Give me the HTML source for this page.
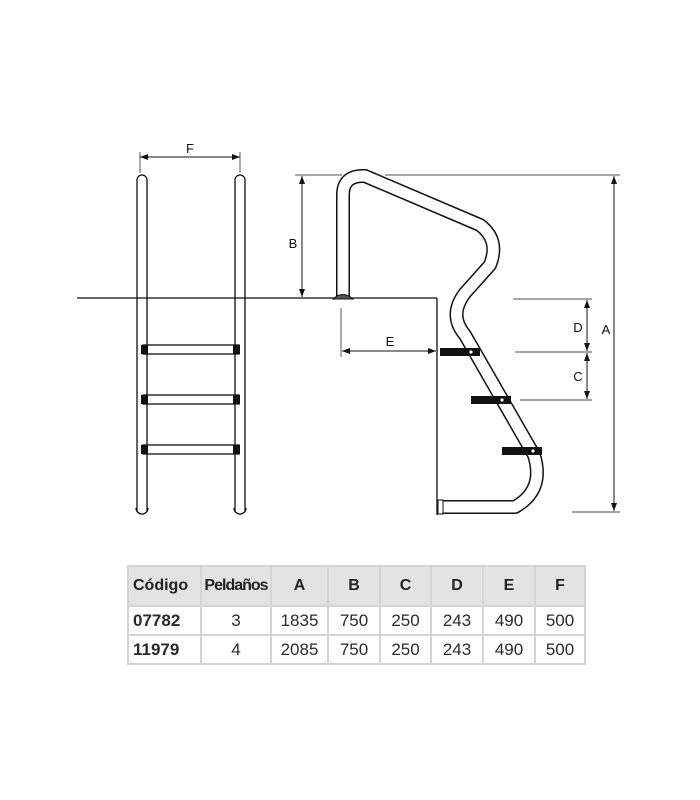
<!DOCTYPE html>
<html><head><style>
body{margin:0;background:#fff;width:700px;height:800px;position:relative;overflow:hidden;font-family:"Liberation Sans",sans-serif}
table{position:absolute;left:127px;top:565px;border-collapse:collapse;color:#2a2a2a}
td{border:2px solid #d4d4d4;text-align:center;font-size:17px;height:27px;padding:0}
tr.h td{background:#e3e3e3;font-weight:bold;font-size:16px;height:38px;color:#222}
td.c{font-weight:bold;text-align:left;padding-left:4px}
</style></head><body>
<svg width="700" height="560" style="position:absolute;left:0;top:0" font-family="Liberation Sans,sans-serif" font-size="13" fill="none" stroke="#111">
<defs><marker id="a" markerWidth="8" markerHeight="6" refX="8" refY="3" orient="auto-start-reverse"><path d="M0,0L8,3L0,6z" fill="#111" stroke="none"/></marker></defs>
<line x1="77" y1="298" x2="437" y2="298" stroke-width="1.3"/>
<line x1="437" y1="298" x2="437" y2="515" stroke-width="1.3"/>
<path d="M137,512V180a5,5 0 0 1 10,0V512" stroke-width="1.3"/>
<path d="M235,512V180a5,5 0 0 1 10,0V512" stroke-width="1.3"/>
<path d="M136,508a6,6 0 0 0 12,0M234,508a6,6 0 0 0 12,0" stroke-width="1.3"/>
<g stroke-width="1.3" fill="#fff"><rect x="143" y="345" width="96" height="9"/><rect x="143" y="395" width="96" height="9"/><rect x="143" y="445" width="96" height="9"/></g>
<g fill="#111" stroke="none"><rect x="141" y="345" width="7" height="9"/><rect x="233" y="345" width="7" height="9"/><rect x="141" y="395" width="7" height="9"/><rect x="233" y="395" width="7" height="9"/><rect x="141" y="445" width="7" height="9"/><rect x="233" y="445" width="7" height="9"/></g>
<line x1="140" y1="157" x2="240" y2="157" stroke-width="1" marker-start="url(#a)" marker-end="url(#a)"/>
<line x1="140" y1="152" x2="140" y2="173" stroke-width=".7"/><line x1="240" y1="152" x2="240" y2="173" stroke-width=".7"/>
<text x="190" y="153" fill="#111" stroke="none" text-anchor="middle">F</text>
<line x1="302" y1="176" x2="302" y2="297" stroke-width="1" marker-start="url(#a)" marker-end="url(#a)"/>
<line x1="295" y1="175" x2="342" y2="175" stroke-width=".7"/>
<text x="293" y="248" fill="#111" stroke="none" text-anchor="middle">B</text>
<path d="M343,298V195Q343,175 365,176L480,225Q500,240 490,265L465,293Q448,315 465,335L534,455Q545,490 515,507L442,507" stroke="#111" stroke-width="14" stroke-linejoin="round"/>
<path d="M343,298V195Q343,175 365,176L480,225Q500,240 490,265L465,293Q448,315 465,335L534,455Q545,490 515,507L442,507" stroke="#fff" stroke-width="11" stroke-linejoin="round"/>
<rect x="438" y="500" width="5" height="14" stroke-width="1" fill="#fff"/>
<path d="M333,299Q343,290 353,299z" fill="#555" stroke-width="1"/>
<g fill="#111" stroke="none"><rect x="440" y="348" width="40" height="8"/><rect x="471" y="396" width="40" height="8"/><rect x="502" y="447" width="40" height="8"/></g>
<g fill="#fff" stroke="#111" stroke-width=".8"><circle cx="471" cy="352" r="2"/><circle cx="502" cy="400" r="2"/><circle cx="533" cy="451" r="2"/></g>
<line x1="341" y1="308" x2="341" y2="357" stroke-width=".7"/>
<line x1="342" y1="351" x2="436" y2="351" stroke-width="1" marker-start="url(#a)" marker-end="url(#a)"/>
<text x="390" y="346" fill="#111" stroke="none" text-anchor="middle">E</text>
<line x1="513" y1="299" x2="592" y2="299" stroke-width=".8"/>
<line x1="515" y1="352" x2="592" y2="352" stroke-width=".8"/>
<line x1="520" y1="400" x2="592" y2="400" stroke-width=".8"/>
<line x1="587" y1="300" x2="587" y2="351" stroke-width="1" marker-start="url(#a)" marker-end="url(#a)"/>
<line x1="587" y1="353" x2="587" y2="399" stroke-width="1" marker-start="url(#a)" marker-end="url(#a)"/>
<text x="578" y="332" fill="#111" stroke="none" text-anchor="middle">D</text>
<text x="578" y="381" fill="#111" stroke="none" text-anchor="middle">C</text>
<line x1="385" y1="175" x2="620" y2="175" stroke-width=".8"/>
<line x1="572" y1="512" x2="620" y2="512" stroke-width=".8"/>
<line x1="614" y1="176" x2="614" y2="511" stroke-width="1" marker-start="url(#a)" marker-end="url(#a)"/>
<text x="606" y="334" fill="#111" stroke="none" text-anchor="middle">A</text>
</svg>
<table>
<tr class="h"><td class="c" style="width:67px">Código</td><td style="width:68px;letter-spacing:-1px">Peldaños</td><td style="width:55px">A</td><td style="width:50px">B</td><td style="width:49px">C</td><td style="width:50px">D</td><td style="width:50px">E</td><td style="width:48px">F</td></tr>
<tr><td class="c">07782</td><td>3</td><td>1835</td><td>750</td><td>250</td><td>243</td><td>490</td><td>500</td></tr>
<tr><td class="c">11979</td><td>4</td><td>2085</td><td>750</td><td>250</td><td>243</td><td>490</td><td>500</td></tr>
</table>
</body></html>
